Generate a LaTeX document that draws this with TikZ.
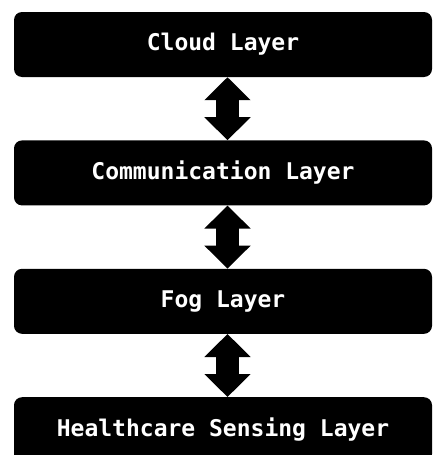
\documentclass[tikz,border=0pt]{standalone}
\usepackage{fontspec}
\setmonofont{DejaVu Sans Mono}
\usepackage{tikz}
\usetikzlibrary{positioning}
\usetikzlibrary{arrows.meta}

\begin{document}
\begin{tikzpicture}[x=1pt,y=-1pt,
  layer/.style={fill=black,rounded corners=8pt,minimum width=418pt,minimum height=65pt,
    inner sep=0pt,text=white,font=\fontsize{23}{27}\selectfont\ttfamily\bfseries},
  link/.style={line width=23pt,{Triangle[length=23pt,width=45pt]}-{Triangle[length=23pt,width=45pt]}}]

\useasboundingbox (0,0) rectangle (433,455);
\clip (0,0) rectangle (433,455);

\def\gap{63pt}
\def\shift{4.5pt}

\node[layer] (cloud) at (223,44.5) {Cloud Layer};
\node[layer,below=\gap of cloud] (comm) {Communication Layer};
\node[layer,below=\gap of comm] (fog) {Fog Layer};
\node[layer,below=\gap of fog] (sense) {Healthcare Sensing Layer};

\draw[link] ([xshift=\shift]cloud.south) -- ([xshift=\shift]comm.north);
\draw[link] ([xshift=\shift]comm.south) -- ([xshift=\shift]fog.north);
\draw[link] ([xshift=\shift]fog.south) -- ([xshift=\shift]sense.north);
\end{tikzpicture}
\end{document}
